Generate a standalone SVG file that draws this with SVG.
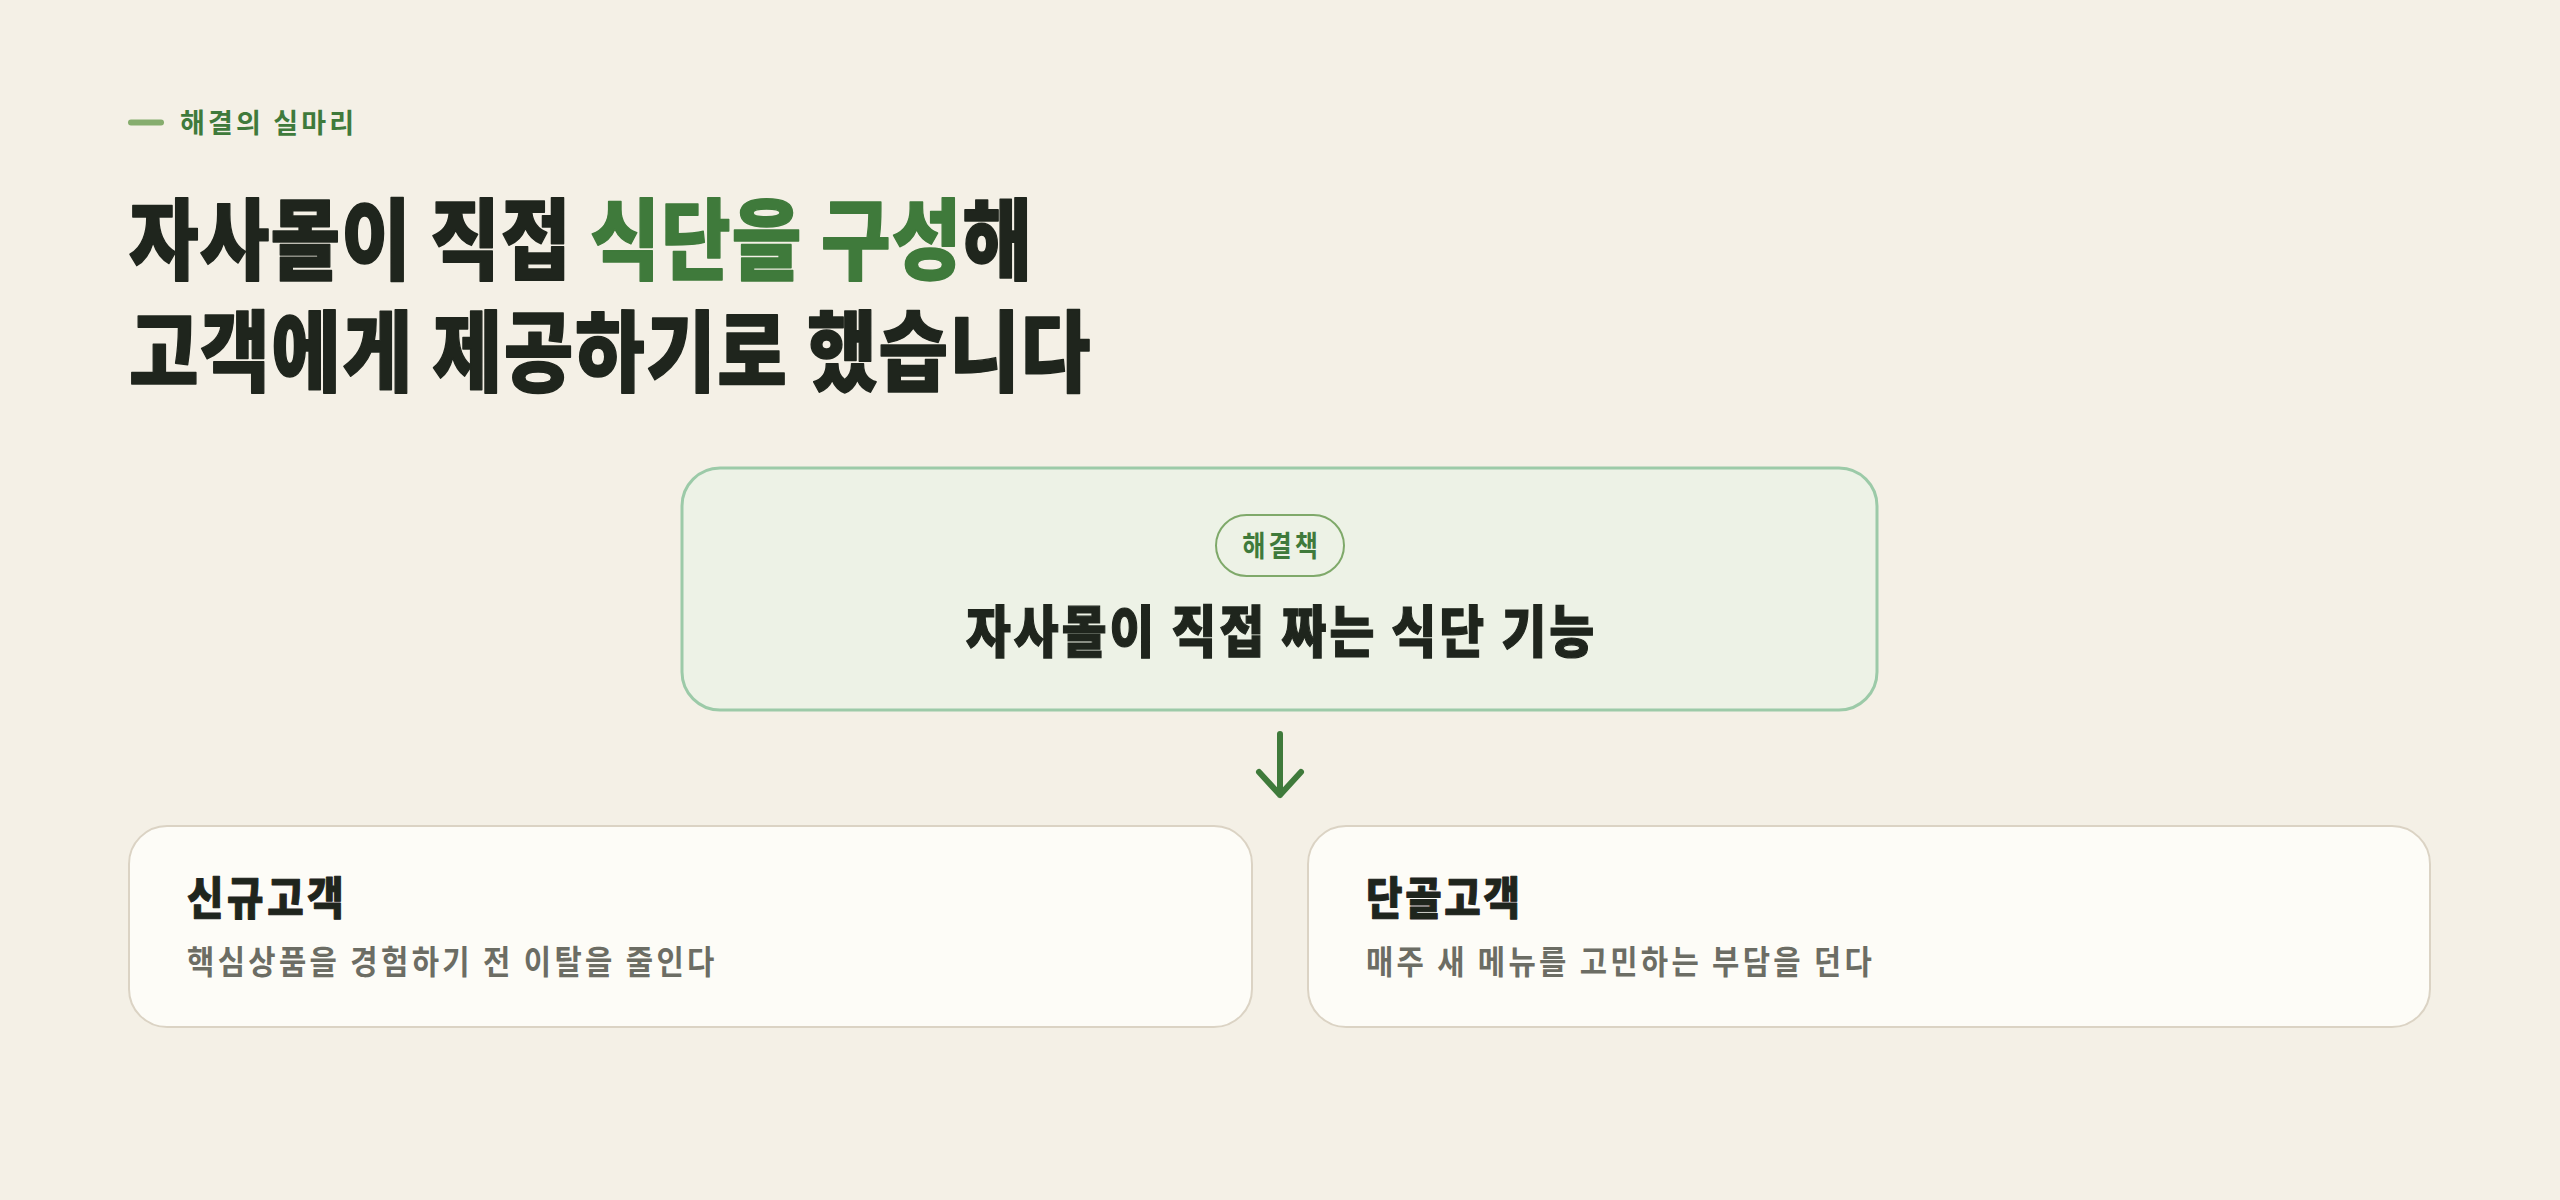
<svg xmlns="http://www.w3.org/2000/svg" width="2560" height="1200" viewBox="0 0 2560 1200">
<style>
text{font-family:"Noto Sans CJK KR","Noto Sans",sans-serif;}
.dark{fill:#1f251d;}
.green{fill:#3f7a3b;}
.title{font-size:88px;font-weight:900;stroke-width:1.5;stroke-linejoin:round;}
.title.dark,.title .dark{stroke:#1f251d;}
.title .green{stroke:#3f7a3b;}
.card{fill:#fdfcf7;stroke:#dbd3c4;stroke-width:2;}
.ctitle{font-size:45px;font-weight:900;fill:#1f251d;stroke:#1f251d;stroke-width:1;stroke-linejoin:round;}
.csub{font-size:33px;font-weight:700;fill:#6c6d64;}
.conn{fill:none;stroke:#3f7a3b;stroke-width:6;stroke-linecap:round;stroke-linejoin:round;}
</style>
<rect x="0" y="0" width="2560" height="1200" fill="#f4f0e6"/>
<g id="header">
<line x1="131" y1="122.5" x2="161" y2="122.5" stroke="#86ad6e" stroke-width="6" stroke-linecap="round"/>
<text x="180" y="133" font-size="27" font-weight="700" class="green" textLength="174" lengthAdjust="spacing">해결의 실마리</text>
<text class="title dark" transform="translate(129 272) scale(0.86 1)" textLength="1050" lengthAdjust="spacing">자사몰이 직접 <tspan class="green">식단을 구성</tspan>해</text>
<text class="title dark" transform="translate(129 384) scale(0.86 1)" textLength="1118" lengthAdjust="spacing">고객에게 제공하기로 했습니다</text>
</g>
<g id="solution">
<rect x="682" y="468" width="1195" height="242" rx="38" fill="#edf2e6" stroke="#9ccaa8" stroke-width="3"/>
<rect x="1216" y="515" width="128" height="61" rx="30.5" fill="#edf2e6" stroke="#7fa96a" stroke-width="2"/>
<text transform="translate(1280 557) scale(0.87 1)" font-size="29" font-weight="700" class="green" text-anchor="middle" textLength="87" lengthAdjust="spacing">해결책</text>
<text transform="translate(1280 652) scale(0.87 1)" font-size="56" font-weight="900" class="dark" stroke="#1f251d" stroke-width="1.2" text-anchor="middle" textLength="722" lengthAdjust="spacing">자사몰이 직접 짜는 식단 기능</text>
</g>
<g id="connectors">
<path class="conn" d="M1280 734 V795 M1259 772 L1280 795 L1301 772"/>
</g>
<g id="new-customer">
<rect class="card" x="129" y="826" width="1123" height="201" rx="38"/>
<text class="ctitle" transform="translate(187 915) scale(0.88 1)" textLength="178" lengthAdjust="spacing">신규고객</text>
<text class="csub" transform="translate(187 974) scale(0.9 1)" textLength="586" lengthAdjust="spacing">핵심상품을 경험하기 전 이탈을 줄인다</text>
</g>
<g id="loyal-customer">
<rect class="card" x="1308" y="826" width="1122" height="201" rx="38"/>
<text class="ctitle" transform="translate(1366 915) scale(0.88 1)" textLength="175" lengthAdjust="spacing">단골고객</text>
<text class="csub" transform="translate(1366 974) scale(0.9 1)" textLength="562" lengthAdjust="spacing">매주 새 메뉴를 고민하는 부담을 던다</text>
</g>
</svg>
